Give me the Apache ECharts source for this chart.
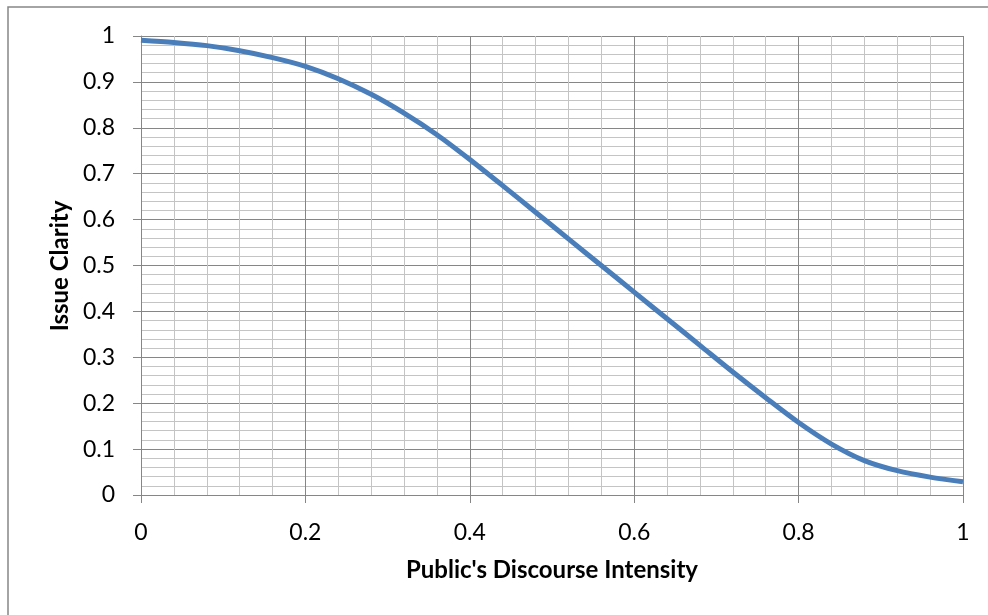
<!DOCTYPE html>
<html>
<head>
<meta charset="utf-8">
<script src="https://cdn.jsdelivr.net/npm/echarts@6/dist/echarts.min.js"></script>
<style>
html,body{margin:0;padding:0;background:#fff;}
#chart{width:988px;height:615px;}
</style>
</head>
<body>
<div id="chart"></div>
<script>
const xValues = [0, 0.04, 0.08, 0.12, 0.16, 0.2, 0.24, 0.28, 0.32, 0.36, 0.4, 0.44, 0.48, 0.52, 0.56, 0.6, 0.64, 0.68, 0.72, 0.76, 0.8, 0.84, 0.88, 0.92, 0.96, 1.0];
const clarity = [0.991, 0.986, 0.979, 0.968, 0.953, 0.934, 0.907, 0.873, 0.832, 0.785, 0.731, 0.674, 0.616, 0.558, 0.500, 0.442, 0.384, 0.326, 0.268, 0.212, 0.158, 0.111, 0.075, 0.053, 0.039, 0.029];
const xTitle = "Public's Discourse Intensity";
const yTitle = "Issue Clarity";

const chart = echarts.init(document.getElementById('chart'), null, {renderer: 'canvas'});
const fontFam = 'Lato, "Noto Sans", sans-serif';
const majorColor = '#868686';
const minorColor = '#c4c4c4';

chart.setOption({
  animation: false,
  backgroundColor: '#ffffff',
  grid: {left: 141, right: 25, top: 36, bottom: 120, containLabel: false},
  xAxis: {
    type: 'value', min: 0, max: 1, interval: 0.2,
    axisLine: {show: true, lineStyle: {color: majorColor, width: 1}},
    axisTick: {show: true, length: 8, inside: false, lineStyle: {color: majorColor}},
    minorTick: {show: false, splitNumber: 5},
    splitLine: {show: true, lineStyle: {color: majorColor, width: 1}},
    minorSplitLine: {show: true, lineStyle: {color: minorColor, width: 1}},
    axisLabel: {margin: 26, fontSize: 23, color: '#000', fontFamily: fontFam,
      formatter: v => String(+v.toFixed(2))}
  },
  yAxis: {
    type: 'value', min: 0, max: 1, interval: 0.1,
    axisLine: {show: true, lineStyle: {color: majorColor, width: 1}},
    axisTick: {show: true, length: 8, inside: false, lineStyle: {color: majorColor}},
    minorTick: {show: false, splitNumber: 5},
    splitLine: {show: true, lineStyle: {color: majorColor, width: 1}},
    minorSplitLine: {show: true, lineStyle: {color: minorColor, width: 1}},
    axisLabel: {margin: 26, fontSize: 23, color: '#000', fontFamily: fontFam,
      formatter: v => String(+v.toFixed(2))}
  },
  graphic: [
    {type: 'rect', shape: {x: 8, y: 7, width: 1100, height: 800}, silent: true, z: -10,
      style: {fill: 'none', stroke: majorColor, lineWidth: 1.5}},
    {type: 'text', x: 60, y: 266, rotation: Math.PI / 2,
      style: {text: yTitle, font: 'bold 24px ' + fontFam, fill: '#000', textAlign: 'center', textVerticalAlign: 'middle'}},
    {type: 'text', x: 552, y: 570,
      style: {text: xTitle, font: 'bold 24px ' + fontFam, fill: '#000', textAlign: 'center', textVerticalAlign: 'middle'}}
  ],
  series: [{
    type: 'line',
    data: xValues.map((x, i) => [x, clarity[i]]),
    smooth: 0.3,
    showSymbol: false,
    lineStyle: {color: '#4a7ebb', width: 5},
    z: 5
  }]
});
</script>
</body>
</html>
